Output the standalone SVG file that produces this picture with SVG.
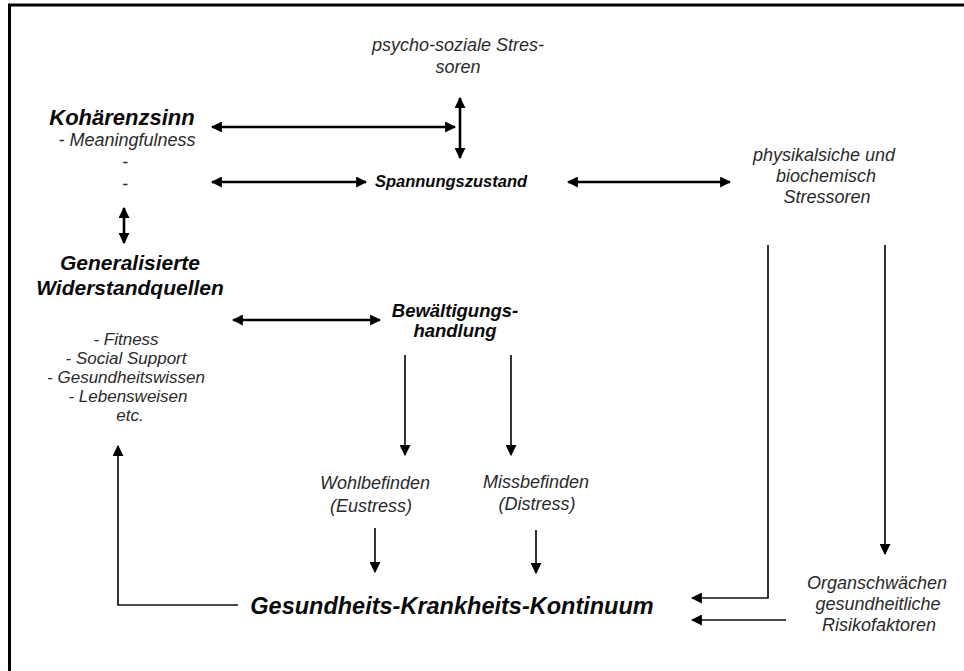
<svg xmlns="http://www.w3.org/2000/svg" width="964" height="671" viewBox="0 0 964 671">
<defs>
<marker id="ah" viewBox="0 0 10 10" refX="9" refY="5" markerWidth="11" markerHeight="11" markerUnits="userSpaceOnUse" orient="auto-start-reverse">
<path d="M0,0 L10,5 L0,10 Z" fill="#000"/>
</marker>
<style>
.t{font-family:"Liberation Sans",Arial,sans-serif;font-style:italic;fill:#2a2a2a;font-size:18px;text-anchor:middle}
.l{font-size:17px}
.b{font-family:"Liberation Sans",Arial,sans-serif;font-style:italic;font-weight:bold;fill:#0a0a0a;text-anchor:middle}
.d{fill:none;stroke:#000;stroke-width:2.6;marker-start:url(#ah);marker-end:url(#ah)}
.s{fill:none;stroke:#111;stroke-width:1.7;marker-end:url(#ah)}
</style>
</defs>
<rect width="964" height="671" fill="#fff"/>
<path d="M9.5,671 V5 H964" fill="none" stroke="#000" stroke-width="3"/>

<g id="psycho">
<text class="t" x="458" y="51">psycho-soziale Stres-</text>
<text class="t" x="458" y="73">soren</text>
</g>
<g id="kohaerenz">
<text class="b" x="122" y="125" font-size="22">Kohärenzsinn</text>
<text class="t" x="127" y="146">- Meaningfulness</text>
<text class="t" x="125" y="168">-</text>
<text class="t" x="125" y="190">-</text>
</g>
<g id="spannung">
<text class="b" x="451" y="187" font-size="16.5">Spannungszustand</text>
</g>
<g id="physikalisch">
<text class="t" x="824" y="161">physikalsiche und</text>
<text class="t" x="826" y="182">biochemisch</text>
<text class="t" x="827" y="203">Stressoren</text>
</g>
<g id="widerstand">
<text class="b" x="130" y="270" font-size="21">Generalisierte</text>
<text class="b" x="130" y="295" font-size="21">Widerstandquellen</text>
<text class="t l" x="126" y="345">- Fitness</text>
<text class="t l" x="126" y="364">- Social Support</text>
<text class="t l" x="126" y="383">- Gesundheitswissen</text>
<text class="t l" x="128" y="402">- Lebensweisen</text>
<text class="t l" x="130" y="421">etc.</text>
</g>
<g id="bewaeltigung">
<text class="b" x="455" y="317" font-size="18.5">Bewältigungs-</text>
<text class="b" x="455" y="337" font-size="18.5">handlung</text>
</g>
<g id="wohl">
<text class="t" x="375" y="489">Wohlbefinden</text>
<text class="t" x="371" y="512">(Eustress)</text>
</g>
<g id="miss">
<text class="t" x="536" y="488">Missbefinden</text>
<text class="t" x="537" y="510">(Distress)</text>
</g>
<g id="kontinuum">
<text class="b" x="452" y="614" font-size="23.5">Gesundheits-Krankheits-Kontinuum</text>
</g>
<g id="organ">
<text class="t" x="877" y="589">Organschwächen</text>
<text class="t" x="878" y="610">gesundheitliche</text>
<text class="t" x="879" y="631">Risikofaktoren</text>
</g>

<g id="connectors">
<path class="d" d="M460,98 V158"/>
<path class="d" d="M212,127 H455"/>
<path class="d" d="M212,182 H366"/>
<path class="d" d="M568,182 H730"/>
<path class="d" d="M124,208 V243"/>
<path class="d" d="M233,320 H380"/>
<path class="s" d="M405,355 V455"/>
<path class="s" d="M511,355 V455"/>
<path class="s" d="M375,528 V572"/>
<path class="s" d="M536,530 V573"/>
<path class="s" d="M238,605 H118 V446"/>
<path class="s" d="M768,245 V598 H692"/>
<path class="s" d="M885,245 V554"/>
<path class="s" d="M786,620 H692"/>
</g>
</svg>
